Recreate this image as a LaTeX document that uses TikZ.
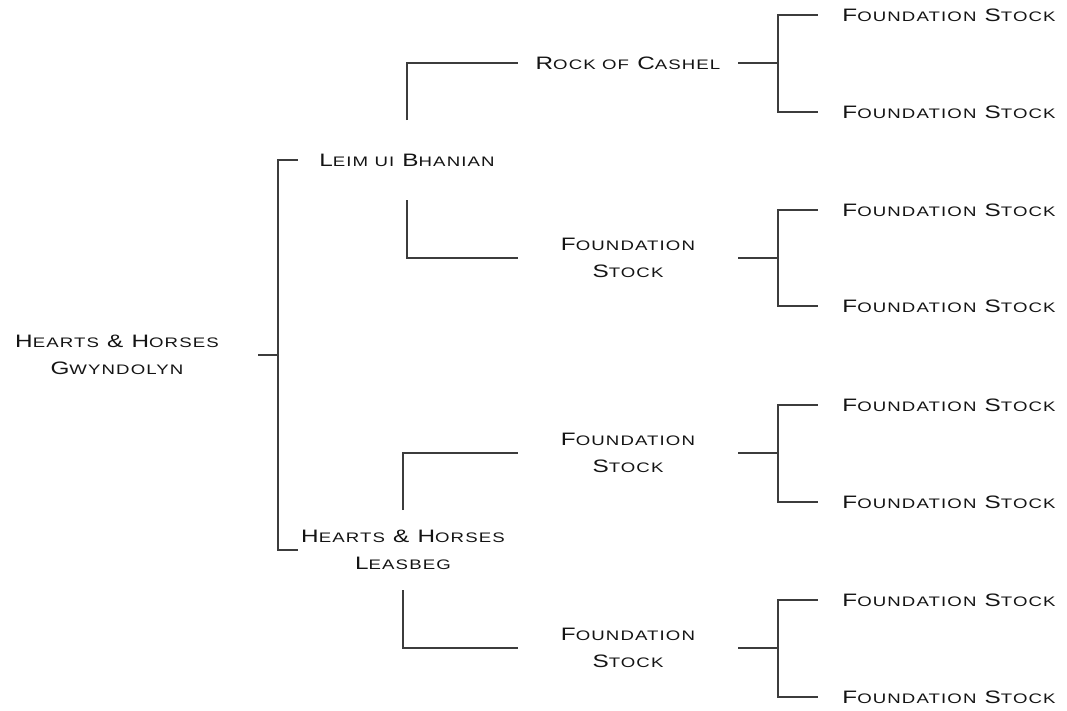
\documentclass[tikz,border=0pt]{standalone}
\usepackage{fontspec}
\newfontfamily\platefont[FakeStretch=1.35,LetterSpace=8]{Liberation Sans}
\usetikzlibrary{calc}
\definecolor{linegray}{HTML}{3C3C3C}
\definecolor{inkblack}{HTML}{141414}
\newcommand\lowcap[1]{{\fontsize{13.8}{27}\selectfont #1}}
\tikzset{
    horse/.style={
        align=center,
        font=\platefont\fontsize{18}{27}\selectfont,
        text=inkblack,
        inner sep=0pt,
        outer sep=0pt
    },
    link/.style={draw=linegray, line width=1.4pt},
    elbow/.style={
        to path={
            -- ($(\tikztostart)!0.5!(\tikztostart-|\tikztotarget)$)
            |- (\tikztotarget)
        }
    }
}
\begin{document}
\begin{tikzpicture}[x=1pt, y=-1pt]
        \useasboundingbox (0,0) rectangle (1067,710);

        % the mare and her parents
        \node[horse, minimum width=282pt] (g) at (117,355)
            {H\lowcap{EARTS} \& H\lowcap{ORSES}\\G\lowcap{WYNDOLYN}};
        \node[horse, minimum width=218pt, minimum height=80pt] (a) at (407,160)
            {L\lowcap{EIM UI} B\lowcap{HANIAN}};
        \node[horse, minimum width=210pt, minimum height=80pt] (b) at (403,550)
            {H\lowcap{EARTS} \& H\lowcap{ORSES}\\L\lowcap{EASBEG}};

        \draw[link] (g.east) to[elbow] (a.west);
        \draw[link] (g.east) to[elbow] (b.west);

        % grandparents
        \node[horse, minimum width=220pt] (c) at (628,63)
            {R\lowcap{OCK OF} C\lowcap{ASHEL}};
        \node[horse, minimum width=220pt] (d) at (628,258)
            {F\lowcap{OUNDATION}\\S\lowcap{TOCK}};
        \node[horse, minimum width=220pt] (e) at (628,453)
            {F\lowcap{OUNDATION}\\S\lowcap{TOCK}};
        \node[horse, minimum width=220pt] (f) at (628,648)
            {F\lowcap{OUNDATION}\\S\lowcap{TOCK}};

        \draw[link] (a.north) |- (c.west);
        \draw[link] (a.south) |- (d.west);
        \draw[link] (b.north) |- (e.west);
        \draw[link] (b.south) |- (f.west);

        % great-grandparents
        \foreach \i/\y/\p in {1/15/c, 2/112/c, 3/210/d, 4/306/d,
                              5/405/e, 6/502/e, 7/600/f, 8/697/f} {
            \node[horse, minimum width=262pt] (s\i) at (949,\y)
                {F\lowcap{OUNDATION} S\lowcap{TOCK}};
            \draw[link] (\p.east) to[elbow] (s\i.west);
        }
\end{tikzpicture}
\end{document}
